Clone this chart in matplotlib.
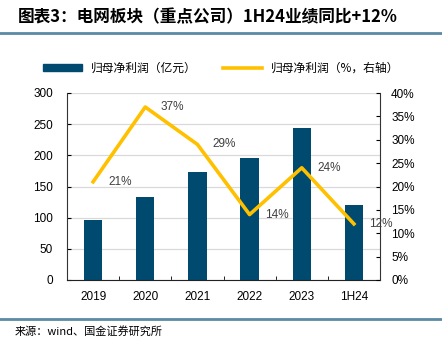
import matplotlib.pyplot as plt
from matplotlib.lines import Line2D
from matplotlib.patches import Patch
from matplotlib.ticker import FuncFormatter, MultipleLocator

plt.rcParams['font.family'] = ['Liberation Sans', 'Noto Sans CJK SC', 'DejaVu Sans']

years = ["2019", "2020", "2021", "2022", "2023", "1H24"]
profit = [97, 133, 173, 196, 244, 120]          # 归母净利润（亿元）
growth = [21, 37, 29, 14, 24, 12]               # 同比增速（%）

bar_color = "#004a70"
line_color = "#ffc000"
rule_color = "#5a8aa5"
cjk = ['Noto Sans CJK SC', 'DejaVu Sans']

fig = plt.figure(figsize=(4.42, 3.48), dpi=100)
ax = fig.add_axes([67 / 442, 68 / 348, 313 / 442, 187 / 348])
ax2 = ax.twinx()

x = list(range(len(years)))
ax.bar(x, profit, width=0.35, color=bar_color, zorder=2)
ax2.plot(x, growth, color=line_color, lw=2.6, zorder=3)
for xi, g in zip(x, growth):
    ax2.annotate(f"{g}%", (xi, g), xytext=(11, 0), textcoords="offset points",
                 va="center", ha="left", fontsize=8.5, color="#404040")

ax.set_xlim(-0.5, len(years) - 0.5)
ax.set_ylim(0, 300)
ax.yaxis.set_major_locator(MultipleLocator(50))
ax2.set_ylim(0, 40)
ax2.yaxis.set_major_locator(MultipleLocator(5))
ax2.yaxis.set_major_formatter(FuncFormatter(lambda v, p: f"{v:.0f}%"))

ax.set_xticks(x)
ax.set_xticklabels(years)
ax.set_xticks([i + 0.5 for i in x[:-1]], minor=True)
ax.tick_params(axis="x", which="major", length=0, pad=8, labelsize=8.5)
ax.tick_params(axis="x", which="minor", length=3, direction="in")
ax.tick_params(axis="y", length=3, direction="in", labelsize=8.5, pad=10)
ax2.tick_params(axis="y", length=3, direction="in", labelsize=8.5, pad=8)

ax.grid(axis="y", color="#d9d9d9", lw=0.9, zorder=0)
ax.set_axisbelow(True)
for a in (ax, ax2):
    a.spines["top"].set_visible(False)
    a.spines["left"].set_color("#333333")
    a.spines["right"].set_color("#333333")
    a.spines["bottom"].set_color("#222222")
ax2.spines["left"].set_visible(False)
ax2.spines["bottom"].set_visible(False)
ax.spines["right"].set_visible(False)

handles = [Patch(color=bar_color), Line2D([], [], color=line_color, lw=2.6)]
fig.legend(handles, ["归母净利润（亿元）", "归母净利润（%，右轴）"],
           loc="center", bbox_to_anchor=(0.5, 1 - 68 / 348), ncol=2,
           frameon=False, handlelength=3.3, handleheight=0.6, columnspacing=2.2,
           prop={"family": cjk, "size": 8.5})

fig.text(18 / 442, 1 - 17 / 348, "图表3：电网板块（重点公司）1H24业绩同比+12%",
         fontsize=12, fontweight="bold", fontstyle="italic", va="center",
         family=cjk)
fig.add_artist(Line2D([0, 1], [1 - 33 / 348] * 2, color=rule_color, lw=2))
fig.add_artist(Line2D([0, 1], [1 - 319 / 348] * 2, color=rule_color, lw=2))
fig.text(15 / 442, 1 - 331 / 348, "来源：wind、国金证券研究所",
         fontsize=8, va="center", family=cjk)

fig.savefig("out.png", dpi=100)
